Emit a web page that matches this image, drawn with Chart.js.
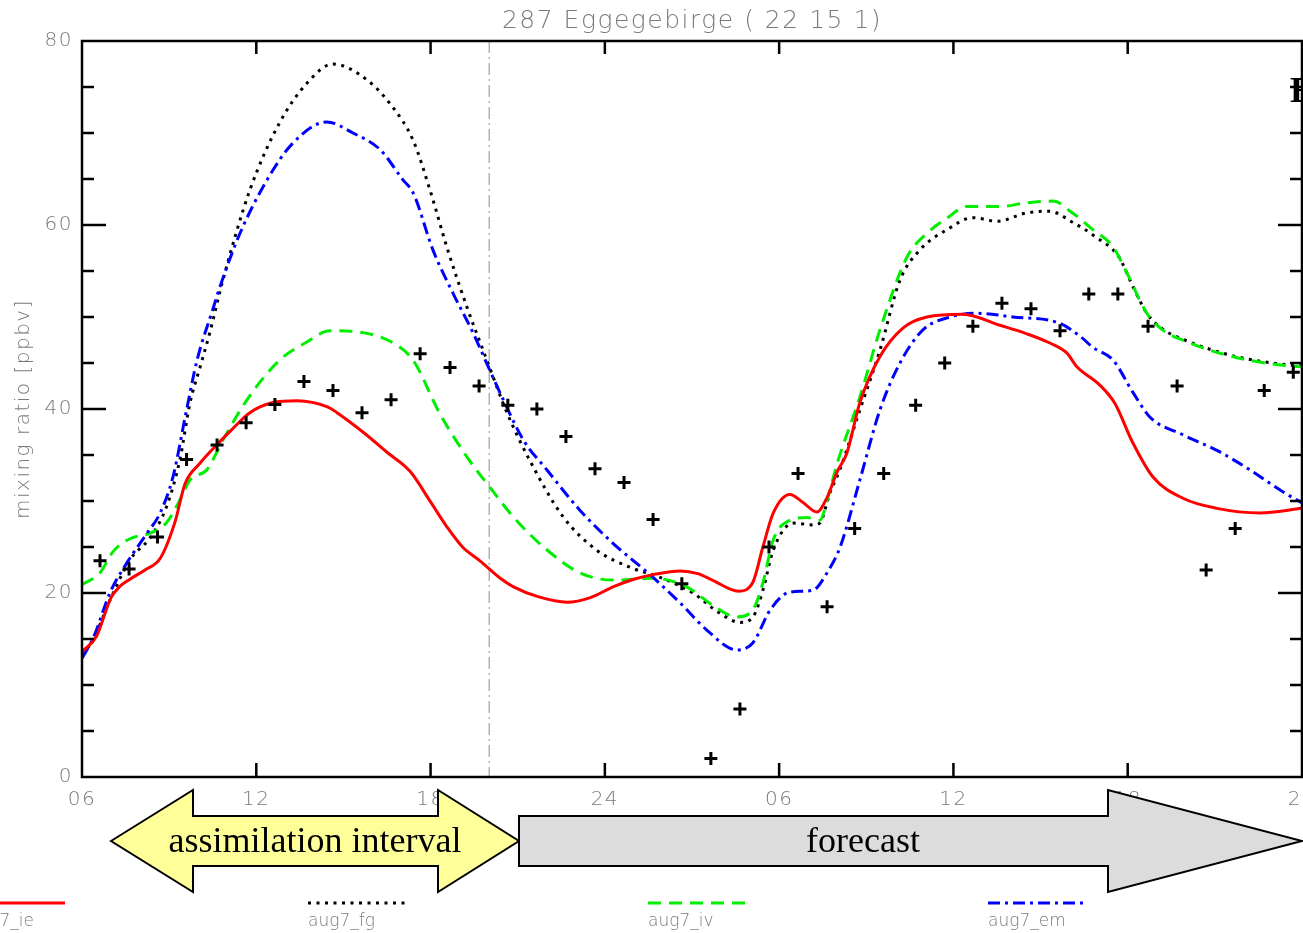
<!DOCTYPE html>
<html>
<head>
<meta charset="utf-8">
<script src="https://cdn.jsdelivr.net/npm/chart.js@4.4.1/dist/chart.umd.min.js"></script>
<style>
html,body{margin:0;padding:0;background:#fff;overflow:hidden;}
#wrap{width:1303px;height:933px;position:relative;}
</style>
</head>
<body>
<div id="wrap"><canvas id="c" width="1303" height="933"></canvas></div>
<script>
// ---- data (hours since 00 of day 1; values in ppbv) ----
const xTickLabels = ['06','12','18','24','06','12','18','24'];
const yTickLabels = ['0','20','40','60','80'];

const ieHours = [6,6.5,7.0,7.3,7.65,8.17,8.7,9.2,9.55,10.06,10.64,11.2,11.78,12.57,13.4,14.47,14.78,15.67,16.5,17.3,18.0,18.56,19.1,19.7,20.4,20.84,21.7,22.7,23.5,24.3,25.0,25.66,26.6,27.2,27.7,28.6,29.1,29.44,29.8,30.37,30.8,31.3,31.65,32.0,32.33,32.78,33.47,34.26,35.09,36.33,37.6,38.5,39.3,39.9,40.25,41.04,41.56,42.18,42.87,43.9,45.07,46.55,48.0];
const ieValues = [13.6,15.3,19.5,20.7,21.5,22.5,23.8,27.7,31.9,34.1,36.1,37.9,39.6,40.7,40.9,40.2,39.6,37.5,35.3,33.2,29.9,27.2,25.0,23.5,21.6,20.7,19.6,19.0,19.5,20.7,21.5,22.0,22.4,22.1,21.4,20.2,21.2,25.0,28.7,30.7,29.9,28.8,30.4,33.2,35.2,40.7,45.7,48.8,50.0,50.3,49.1,48.2,47.2,46.1,44.6,42.6,40.6,36.3,32.6,30.3,29.2,28.7,29.2];

const fgHours = [6,6.38,6.96,7.65,8.34,8.9,9.37,9.72,10.06,10.4,10.85,11.78,12.8,13.74,14.64,15.8,16.7,17.4,17.98,18.56,19.25,19.94,20.63,21.4,22.56,23.7,24.86,25.9,27.03,27.96,28.65,29.1,29.44,29.8,30.5,31.16,31.4,31.75,32.1,32.78,33.47,34.16,34.85,35.78,36.67,37.5,38.5,39.3,40.1,40.9,41.7,42.18,42.66,43.2,44.04,45.6,47.2,48.0];
const fgValues = [13.3,14.9,19.2,23.6,26.0,29.3,34.5,40.7,44.5,48.3,54.0,63.8,71.1,75.4,77.5,75.8,72.8,69.2,63.8,57.6,51.1,45.3,39.6,34.5,28.3,24.7,22.8,21.7,20.0,17.8,16.8,17.4,20.3,24.7,27.6,27.4,27.6,30.9,33.5,39.9,46.4,54.0,57.3,59.5,60.8,60.4,61.3,61.5,60.3,58.7,56.5,53.3,50.4,48.7,47.4,45.8,44.9,44.7];

const ivHours = [6,6.62,7.07,7.65,8.34,8.9,9.37,9.72,10.3,10.85,11.68,12.8,13.7,14.54,15.67,16.7,17.4,18.3,19.25,20.04,20.84,22.0,23.14,24.28,25.66,26.8,27.7,28.55,29.1,29.44,29.8,30.37,30.96,31.4,31.68,32.0,32.78,33.47,34.4,35.09,35.8,36.46,37.6,38.5,39.43,40.1,40.8,41.5,41.97,42.66,43.2,44.04,45.6,47.2,48.0];
const ivValues = [20.9,22.2,24.5,25.9,26.5,27.6,30.1,32.3,33.4,36.6,41.0,45.3,47.2,48.5,48.3,47.2,45.3,39.6,34.8,31.5,28.3,24.7,22.2,21.4,21.6,20.7,18.7,17.4,18.2,21.1,25.8,27.9,28.2,27.9,30.4,34.1,41.3,48.6,56.5,59.1,60.8,62.0,62.0,62.4,62.6,61.3,59.5,57.6,54.8,50.4,48.6,47.3,45.7,44.8,44.6];

const emHours = [6,6.4,6.96,7.55,8.24,8.69,9.13,9.6,9.96,10.5,10.75,11.44,12.37,13.26,14.43,15.33,16.26,17.05,17.4,18.08,18.77,19.46,20.04,20.4,21.2,22.0,23.14,24.28,25.55,26.6,27.5,28.55,29.1,29.7,30.37,31.16,31.65,32.1,32.78,33.47,34.16,34.95,35.88,36.8,38.05,39.67,40.4,40.8,41.5,42.18,42.77,43.9,45.07,46.2,47.34,48.0];
const emValues = [12.9,15.2,20.0,23.3,26.5,28.7,32.6,39.9,45.3,50.8,53.3,59.1,64.9,68.9,71.2,70.0,68.2,64.9,63.5,57.3,52.6,48.3,44.2,41.7,36.6,33.4,29.0,25.4,22.0,18.9,16.0,13.8,14.6,18.2,20.1,20.3,22.2,25.0,32.3,39.9,45.0,48.6,50.0,50.4,50.0,49.3,47.8,46.7,45.3,41.8,39.1,37.2,35.5,33.4,31.0,29.8];

const obsHours = [6.62,7.62,8.6,9.6,10.65,11.65,12.64,13.64,14.64,15.64,16.64,17.64,18.67,19.67,20.66,21.66,22.66,23.66,24.66,25.66,26.65,27.65,28.65,29.65,30.65,31.65,32.6,33.6,34.7,35.7,36.67,37.67,38.67,39.67,40.66,41.66,42.7,43.7,44.7,45.7,46.7,47.7];
const obsValues = [23.5,22.6,26.1,34.5,36.1,38.5,40.5,43.0,42.0,39.6,41.0,46.0,44.5,42.5,40.4,40.0,37.0,33.5,32.0,28.0,21.0,2.0,7.4,25.0,33.0,18.5,27.0,33.0,40.4,45.0,49.0,51.5,50.9,48.5,52.5,52.5,49.0,42.5,22.5,27.0,42.0,44.0];

const seriesNames = ['aug7_ie','aug7_fg','aug7_iv','aug7_em'];
const assimilationEndHour = 20;
const titleText = '287 Eggegebirge ( 22 15 1)';

const pts = (h, v) => h.map((x, i) => ({x: x, y: v[i]}));

const tickFont = {family: "'DejaVu Sans', sans-serif", size: 20, weight: '300'};
const grey = '#7a7a7a';

const decor = {
  id: 'decor',
  beforeDraw(chart) {
    // wide letter spacing for the title (drawn before datasets, scales are drawn later)
    chart.ctx.letterSpacing = '1.5px';
  },
  beforeDatasetsDraw(chart) {
    const {ctx, chartArea: a, scales: {x}} = chart;
    ctx.letterSpacing = '0px';
    const px = x.getPixelForValue(assimilationEndHour);
    ctx.save();
    ctx.strokeStyle = '#8c8c8c';
    ctx.lineWidth = 1;
    ctx.setLineDash([12, 4, 2, 4]);
    ctx.beginPath();
    ctx.moveTo(px + 0.5, a.top);
    ctx.lineTo(px + 0.5, a.bottom);
    ctx.stroke();
    ctx.restore();
  },
  afterDatasetsDraw(chart) {
    const {ctx, chartArea: a, scales: {x, y}} = chart;
    ctx.save();
    ctx.strokeStyle = '#000';
    ctx.lineWidth = 2.5;
    ctx.setLineDash([]);
    ctx.strokeRect(a.left, a.top, a.right - a.left, a.bottom - a.top);
    ctx.beginPath();
    for (let h = 12; h < 48; h += 6) {
      const px = x.getPixelForValue(h);
      ctx.moveTo(px, a.bottom); ctx.lineTo(px, a.bottom - 14);
      ctx.moveTo(px, a.top); ctx.lineTo(px, a.top + 13);
    }
    for (let v = 5; v < 80; v += 5) {
      const py = y.getPixelForValue(v);
      const len = (v % 20 === 0) ? 24 : 12;
      ctx.moveTo(a.left, py); ctx.lineTo(a.left + len, py);
      ctx.moveTo(a.right, py); ctx.lineTo(a.right - len, py);
    }
    ctx.stroke();
    ctx.restore();
  },
  afterDraw(chart) {
    const {ctx} = chart;
    ctx.save();
    ctx.letterSpacing = '0px';
    // legend
    const lx = [-32, 308, 648, 988];
    chart.data.datasets.slice(0, 4).forEach((ds, i) => {
      ctx.strokeStyle = ds.borderColor;
      ctx.lineWidth = 3;
      ctx.setLineDash(ds.borderDash || []);
      ctx.beginPath();
      ctx.moveTo(lx[i], 903);
      ctx.lineTo(lx[i] + 97, 903);
      ctx.stroke();
      ctx.setLineDash([]);
      ctx.fillStyle = grey;
      ctx.font = "300 17px 'DejaVu Sans', sans-serif";
      ctx.textBaseline = 'middle';
      ctx.textAlign = 'left';
      ctx.fillText(ds.label, lx[i], 922);
    });
    // arrows
    ctx.setLineDash([]);
    ctx.lineWidth = 2;
    ctx.strokeStyle = '#000';
    ctx.lineJoin = 'miter';
    ctx.fillStyle = '#ffff99';
    ctx.beginPath();
    ctx.moveTo(111, 841);
    ctx.lineTo(193, 790); ctx.lineTo(193, 816); ctx.lineTo(438, 816); ctx.lineTo(438, 790);
    ctx.lineTo(519, 841);
    ctx.lineTo(438, 892); ctx.lineTo(438, 866); ctx.lineTo(193, 866); ctx.lineTo(193, 892);
    ctx.closePath();
    ctx.fill(); ctx.stroke();
    ctx.fillStyle = '#dcdcdc';
    ctx.beginPath();
    ctx.moveTo(519, 816); ctx.lineTo(1108, 816); ctx.lineTo(1108, 790);
    ctx.lineTo(1302, 841);
    ctx.lineTo(1108, 892); ctx.lineTo(1108, 866); ctx.lineTo(519, 866);
    ctx.closePath();
    ctx.fill(); ctx.stroke();
    ctx.fillStyle = '#000';
    ctx.font = "36px 'Liberation Serif', 'Times New Roman', serif";
    ctx.textAlign = 'center';
    ctx.textBaseline = 'middle';
    ctx.fillText('assimilation interval', 315, 843);
    ctx.fillText('forecast', 863, 843);
    // clipped mark at top right
    ctx.font = "bold 36px 'Liberation Serif', serif";
    ctx.textAlign = 'left';
    ctx.textBaseline = 'alphabetic';
    ctx.fillText('E', 1290, 102);
    ctx.restore();
  }
};

new Chart(document.getElementById('c'), {
  type: 'line',
  data: {
    datasets: [
      {label: seriesNames[0], data: pts(ieHours, ieValues), borderColor: '#ff0000', borderWidth: 3, pointRadius: 0, fill: false, cubicInterpolationMode: 'monotone', order: 1},
      {label: seriesNames[1], data: pts(fgHours, fgValues), borderColor: '#000000', borderWidth: 3, borderDash: [3, 5.5], pointRadius: 0, fill: false, cubicInterpolationMode: 'monotone', order: 4},
      {label: seriesNames[2], data: pts(ivHours, ivValues), borderColor: '#00ee00', borderWidth: 3, borderDash: [13, 8], pointRadius: 0, fill: false, cubicInterpolationMode: 'monotone', order: 3},
      {label: seriesNames[3], data: pts(emHours, emValues), borderColor: '#0000ff', borderWidth: 3, borderDash: [12, 5, 3, 5], pointRadius: 0, fill: false, cubicInterpolationMode: 'monotone', order: 2},
      {label: 'obs', data: pts(obsHours, obsValues), showLine: false, pointStyle: 'cross', pointRadius: 6.5, pointBorderWidth: 3, borderColor: '#000', backgroundColor: '#000', order: 0}
    ]
  },
  options: {
    responsive: false,
    animation: false,
    devicePixelRatio: 1,
    layout: {autoPadding: false, padding: {left: 0, right: 1, top: 0, bottom: 0}},
    plugins: {
      legend: {display: false},
      tooltip: {enabled: false},
      title: {
        display: true, text: titleText, fullSize: false, color: grey,
        font: {family: "'DejaVu Sans', sans-serif", size: 25, weight: '300'},
        lineHeight: 1.2,
        padding: {top: 6, bottom: 5}
      }
    },
    scales: {
      x: {
        type: 'linear', min: 6, max: 48, z: 1,
        grid: {display: false, drawTicks: false},
        border: {display: false},
        ticks: {
          stepSize: 6, color: grey, font: tickFont, padding: 11, maxRotation: 0,
          callback: (v) => xTickLabels[Math.round((v - 6) / 6)]
        },
        afterFit: (s) => { s.height = 156; s.paddingLeft = 0; s.paddingRight = 0; }
      },
      y: {
        min: 0, max: 80, z: 1,
        grid: {display: false, drawTicks: false},
        border: {display: false},
        ticks: {
          stepSize: 20, color: grey, font: tickFont, padding: 9,
          callback: (v) => yTickLabels[Math.round(v / 20)]
        },
        title: {display: true, text: 'mixing ratio [ppbv]', color: grey, font: {family: "'DejaVu Sans', sans-serif", size: 20, weight: '300'}, padding: {top: 12, bottom: 0}},
        afterFit: (s) => { s.width = 82; s.paddingTop = 0; s.paddingBottom = 0; }
      }
    }
  },
  plugins: [decor]
});
</script>
</body>
</html>
